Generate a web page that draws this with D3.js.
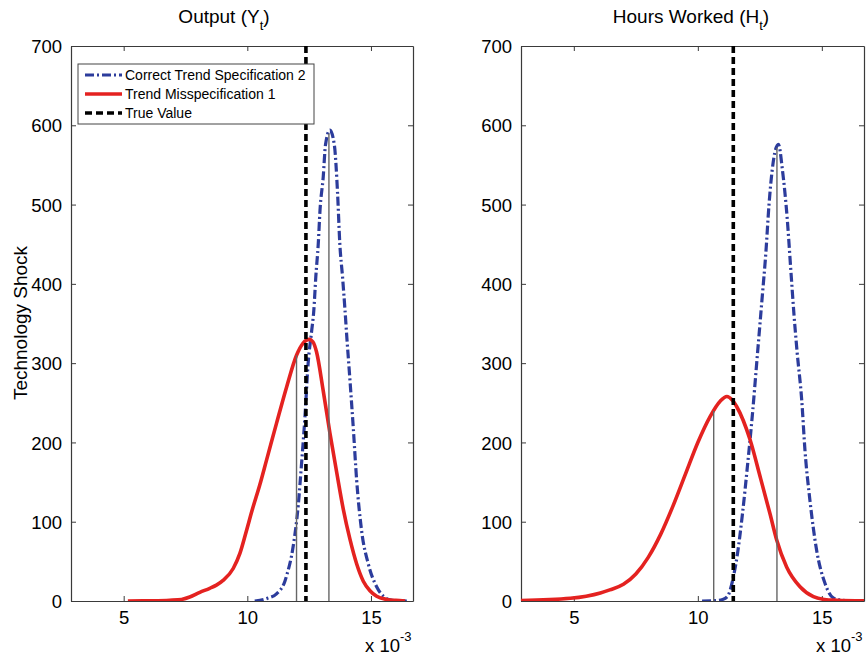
<!DOCTYPE html>
<html>
<head>
<meta charset="utf-8">
<script src="https://cdn.jsdelivr.net/npm/d3@7"></script>
<style>
  html, body { margin: 0; padding: 0; background: #fff; }
  svg { display: block; font-family: "Liberation Sans", Arial, sans-serif; }
</style>
</head>
<body>
<svg id="chart" width="866" height="658"></svg>
<script>
// Posterior densities of the technology-shock estimate (x in units of 10^-3)

const panelTitles = [["Output (Y", "t", ")"], ["Hours Worked (H", "t", ")"]];
const yLabel = "Technology Shock";
const seriesNames = ["Correct Trend Specification 2", "Trend Misspecification 1", "True Value"];
const xTicks = [5, 10, 15];
const yTicks = [0, 100, 200, 300, 400, 500, 600, 700];
const xDomain = [2.87, 16.7];
const yDomain = [0, 700];

// Output panel
const outputCorrect = [
  [10.30, 0], [10.78, 3], [11.18, 9], [11.52, 25], [11.59, 32], [11.85, 68], [12.06, 121],
  [12.19, 172], [12.33, 232], [12.46, 300], [12.60, 340], [12.69, 367], [12.77, 409],
  [12.87, 451], [12.94, 493], [13.07, 535], [13.16, 575], [13.34, 594], [13.52, 575],
  [13.65, 514], [13.74, 451], [13.85, 409], [13.95, 367], [14.03, 330], [14.15, 279],
  [14.29, 216], [14.42, 153], [14.62, 89], [14.89, 47], [15.23, 18], [15.50, 6],
  [15.77, 1.5], [16.10, 0.3], [16.45, 0]
];
const outputMisspec = [
  [5.17, 0], [6.00, 0.3], [6.86, 1], [7.34, 2], [7.67, 5], [8.08, 11], [8.48, 16],
  [8.75, 20], [9.02, 26], [9.43, 41], [9.70, 60], [9.96, 88], [10.20, 115], [10.50, 146],
  [10.78, 178], [11.18, 224], [11.59, 270], [11.99, 310], [12.25, 325], [12.50, 330],
  [12.65, 327], [12.80, 314], [13.07, 265], [13.34, 212], [13.61, 163], [13.88, 116],
  [14.15, 78], [14.42, 47], [14.69, 25], [14.96, 13], [15.23, 6], [15.64, 2],
  [16.00, 0.8], [16.38, 0]
];
const outputTrue = 12.37;
const outputMeans = [13.30, 11.99]; // correct, misspecified

// Hours panel
const hoursCorrect = [
  [10.17, 0], [10.70, 0.5], [11.00, 2], [11.20, 6], [11.43, 30], [11.60, 60], [11.80, 110],
  [12.00, 170], [12.20, 235], [12.40, 310], [12.60, 385], [12.74, 438], [12.87, 500],
  [13.00, 544], [13.10, 565], [13.25, 576], [13.41, 544], [13.61, 480], [13.75, 417],
  [13.88, 360], [14.00, 315], [14.19, 253], [14.32, 190], [14.52, 127], [14.79, 64],
  [15.13, 22], [15.46, 4], [15.80, 1], [16.27, 0], [16.70, 0]
];
const hoursMisspec = [
  [2.87, 0.5], [4.86, 3.4], [5.50, 6], [6.07, 10], [6.45, 14], [7.00, 21], [7.50, 34],
  [8.00, 55], [8.50, 84], [9.00, 120], [9.50, 160], [10.00, 200], [10.50, 233],
  [10.90, 252], [11.17, 258], [11.40, 253], [11.57, 245], [12.11, 203],
  [12.51, 157], [12.91, 110], [13.18, 77], [13.58, 43], [14.12, 18], [14.66, 5.4],
  [15.10, 2], [15.60, 1], [16.70, 0.3]
];
const hoursTrue = 11.43;
const hoursMeans = [13.19, 10.64];

const panels = [
  { title: panelTitles[0], titleX: 224, box: { l: 71, r: 413, t: 46, b: 601 },
    correct: outputCorrect, misspec: outputMisspec, truth: outputTrue, means: outputMeans,
    legend: true, ylab: true },
  { title: panelTitles[1], titleX: 691, box: { l: 521, r: 864, t: 46, b: 601 },
    correct: hoursCorrect, misspec: hoursMisspec, truth: hoursTrue, means: hoursMeans,
    legend: false, ylab: false }
];

const BLUE = "#2c3c9c";
const RED = "#e42220";
const AXIS = "#3a3a3a";

const svg = d3.select("#chart");

// linear lookup of density height at x
function heightAt(data, x) {
  for (let i = 1; i < data.length; i++) {
    const [x0, y0] = data[i - 1], [x1, y1] = data[i];
    if (x >= x0 && x <= x1) return y0 + (y1 - y0) * (x - x0) / (x1 - x0);
  }
  return 0;
}

panels.forEach((p, idx) => {
  const { l, r, t, b } = p.box;
  const x = d3.scaleLinear().domain(xDomain).range([l, r]);
  const y = d3.scaleLinear().domain(yDomain).range([b, t]);
  const g = svg.append("g");

  const clipId = "clip" + idx;
  g.append("clipPath").attr("id", clipId)
    .append("rect").attr("x", l).attr("y", t).attr("width", r - l).attr("height", b - t);

  // axes: bottom/left with labels, top/right mirrored ticks, all inward
  const tickLen = 5;
  const bottom = g.append("g").attr("transform", `translate(0,${b})`)
    .call(d3.axisBottom(x).tickValues(xTicks).tickSizeInner(-tickLen).tickSizeOuter(0).tickPadding(10));
  const top = g.append("g").attr("transform", `translate(0,${t})`)
    .call(d3.axisTop(x).tickValues(xTicks).tickSizeInner(-tickLen).tickSizeOuter(0).tickFormat(""));
  const left = g.append("g").attr("transform", `translate(${l},0)`)
    .call(d3.axisLeft(y).tickValues(yTicks).tickSizeInner(-tickLen).tickSizeOuter(0).tickPadding(9));
  const right = g.append("g").attr("transform", `translate(${r},0)`)
    .call(d3.axisRight(y).tickValues(yTicks).tickSizeInner(-tickLen).tickSizeOuter(0).tickFormat(""));
  [bottom, top, left, right].forEach(a => {
    a.select(".domain").attr("stroke", AXIS).attr("stroke-width", 1.2);
    a.selectAll(".tick line").attr("stroke", AXIS).attr("stroke-width", 1);
    a.selectAll("text").attr("fill", "#000").attr("font-size", 18.5)
      .attr("font-family", '"Liberation Sans", Arial, sans-serif');
  });
  left.selectAll("text").attr("dy", "0.36em");

  const line = d3.line().x(d => x(d[0])).y(d => y(d[1])).curve(d3.curveMonotoneX);
  const plot = g.append("g").attr("clip-path", `url(#${clipId})`);

  plot.append("path").datum(p.correct).attr("d", line)
    .attr("fill", "none").attr("stroke", BLUE).attr("stroke-width", 3.2)
    .attr("stroke-dasharray", "9,3,2,3");
  plot.append("path").datum(p.misspec).attr("d", line)
    .attr("fill", "none").attr("stroke", RED).attr("stroke-width", 3.6)
    .attr("stroke-linejoin", "round");
  plot.append("line")
    .attr("x1", x(p.truth)).attr("x2", x(p.truth)).attr("y1", y(yDomain[1])).attr("y2", y(0))
    .attr("stroke", "#000").attr("stroke-width", 3.6).attr("stroke-dasharray", "7,4");

  // thin markers at the posterior means
  [p.correct, p.misspec].forEach((data, k) => {
    const m = p.means[k];
    plot.append("line")
      .attr("x1", x(m)).attr("x2", x(m)).attr("y1", y(0)).attr("y2", y(heightAt(data, m)))
      .attr("stroke", "#666").attr("stroke-width", 1.4);
  });

  // title with subscript
  const title = g.append("text").attr("x", p.titleX).attr("y", 23)
    .attr("text-anchor", "middle").attr("font-size", 19).attr("fill", "#000");
  title.append("tspan").text(p.title[0]);
  title.append("tspan").attr("font-size", 13).attr("dy", 7).text(p.title[1]);
  title.append("tspan").attr("dy", -7).text(p.title[2]);

  // x 10^-3 multiplier
  const mult = g.append("text").attr("x", r - 48).attr("y", 652)
    .attr("font-size", 18.5).attr("fill", "#000");
  mult.append("tspan").text("x 10");
  mult.append("tspan").attr("font-size", 13).attr("dy", -11).text("-3");

  if (p.ylab) {
    g.append("text").attr("transform", `translate(27,323) rotate(-90)`)
      .attr("text-anchor", "middle").attr("font-size", 19).attr("fill", "#000").text(yLabel);
  }

  if (p.legend) {
    const lg = g.append("g");
    lg.append("rect").attr("x", 78).attr("y", 64).attr("width", 236).attr("height", 60)
      .attr("fill", "#fff").attr("stroke", "#444").attr("stroke-width", 1);
    const styles = [
      { stroke: BLUE, dash: "9,3,2,3", w: 3.2 },
      { stroke: RED, dash: null, w: 3.6 },
      { stroke: "#000", dash: "7,4", w: 3.6 }
    ];
    seriesNames.forEach((name, i) => {
      const cy = 75 + i * 19;
      lg.append("line").attr("x1", 85).attr("x2", 122).attr("y1", cy).attr("y2", cy)
        .attr("stroke", styles[i].stroke).attr("stroke-width", styles[i].w)
        .attr("stroke-dasharray", styles[i].dash);
      lg.append("text").attr("x", 125).attr("y", cy).attr("dy", "0.36em")
        .attr("font-size", 14).attr("fill", "#000").text(name);
    });
  }
});
</script>
</body>
</html>
